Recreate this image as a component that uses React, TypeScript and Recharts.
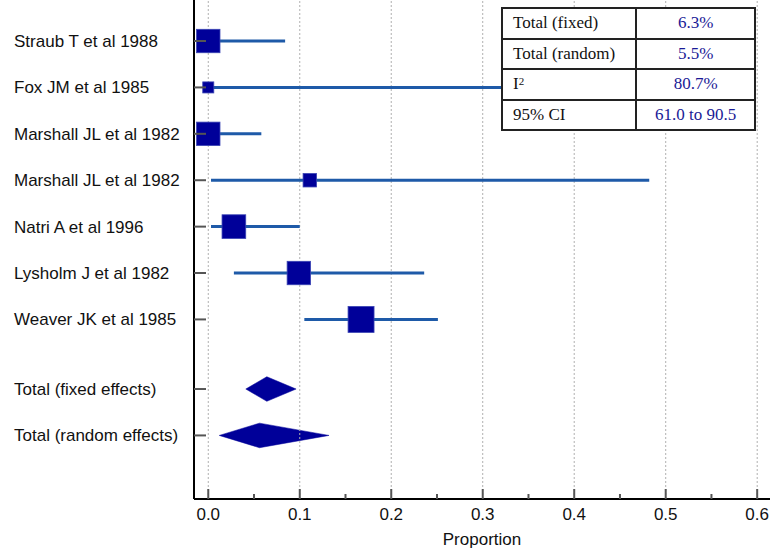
import React from 'react';
import { ScatterChart, Scatter, XAxis, YAxis, ErrorBar, ReferenceLine, ReferenceArea } from 'recharts';

// ---- data ----
const studyNames = [
  'Straub T et al 1988',
  'Fox JM et al 1985',
  'Marshall JL et al 1982',
  'Marshall JL et al 1982',
  'Natri A et al 1996',
  'Lysholm J et al 1982',
  'Weaver JK et al 1985',
];
const studyRows = [0, 1, 2, 3, 4, 5, 6];
const studyProportion = [0.0, 0.0, 0.0, 0.111, 0.028, 0.099, 0.167];
const studyLower = [0.0, 0.0, 0.0, 0.003, 0.003, 0.028, 0.105];
const studyUpper = [0.084, 0.52, 0.058, 0.482, 0.1, 0.236, 0.251];
const studyWeight = [17.5, 3.9, 17.5, 5.8, 17.9, 17.5, 21.5];

const totalNames = ['Total (fixed effects)', 'Total (random effects)'];
const totalRows = [7.5, 8.5];
const totalProportion = [0.064, 0.056];
const totalLower = [0.041, 0.012];
const totalUpper = [0.096, 0.132];

const xTicks = [0, 0.05, 0.1, 0.15, 0.2, 0.25, 0.3, 0.35, 0.4, 0.45, 0.5, 0.55, 0.6];
const gridValues = [0, 0.1, 0.2, 0.3, 0.4, 0.5, 0.6];
const majorTickLabels = ['0.0', '0.1', '0.2', '0.3', '0.4', '0.5', '0.6'];

const tableLabels = ['Total (fixed)', 'Total (random)', 'I', '95% CI'];
const tableLabelSup = ['', '', '2', ''];
const tableValues = ['6.3%', '5.5%', '80.7%', '61.0 to 90.5'];

// ---- derived ----
const studyData = studyNames.map((name, i) => ({
  name,
  row: studyRows[i],
  p: studyProportion[i],
  w: studyWeight[i],
  err: [studyProportion[i] - studyLower[i], studyUpper[i] - studyProportion[i]],
}));

const rowLabels: Record<string, string> = {};
studyRows.forEach((r, i) => (rowLabels[String(r)] = studyNames[i]));
totalRows.forEach((r, i) => (rowLabels[String(r)] = totalNames[i]));

const SANS = '"Liberation Sans", Arial, Helvetica, sans-serif';
const SERIF = '"Liberation Serif", "Times New Roman", Times, serif';
const NAVY = '#000099';

const SquareShape = (props: any) => {
  const { cx, cy, payload } = props;
  const s = 5.6 * Math.sqrt(payload.w);
  return (
    <rect x={cx - s / 2} y={cy - s / 2} width={s} height={s} fill={NAVY} stroke="#3a44b4" strokeWidth={0.8} />
  );
};

const makeDiamond = (p: number, lo: number, hi: number) => (props: any) => {
  const { x, y, width, height } = props;
  const px = x + (width * (p - lo)) / (hi - lo);
  const cy = y + height / 2;
  return (
    <polygon
      points={`${x},${cy} ${px},${y} ${x + width},${cy} ${px},${y + height}`}
      fill={NAVY}
      stroke={NAVY}
      strokeWidth={0.5}
    />
  );
};

const YTick = (props: any) => {
  const { x, y, payload } = props;
  const label = rowLabels[String(payload.value)];
  return (
    <g>
      <line x1={x} x2={x + 12} y1={y} y2={y} stroke="#555" strokeWidth={2} />
      <text x={14} y={y} dy={6} textAnchor="start" fontFamily={SANS} fontSize={17} fill="#111">
        {label}
      </text>
    </g>
  );
};

const XTick = (props: any) => {
  const { x, y, payload } = props;
  const idx = gridValues.findIndex((g) => Math.abs(g - payload.value) < 1e-9);
  const major = idx >= 0;
  return (
    <g>
      <line x1={x} x2={x} y1={y} y2={y - (major ? 10 : 5)} stroke="#555" strokeWidth={2} />
      {major && (
        <text x={x} y={y + 21} textAnchor="middle" fontFamily={SANS} fontSize={17} fill="#111">
          {majorTickLabels[idx]}
        </text>
      )}
    </g>
  );
};

export default function App() {
  return (
    <div style={{ position: 'absolute', left: 0, top: 0, width: 770, height: 548, background: '#fff' }}>
      <ScatterChart width={770} height={548} margin={{ top: 0, right: 0, bottom: 0, left: 0 }}>
        <XAxis
          type="number"
          dataKey="p"
          domain={[-0.0156, 0.614]}
          allowDataOverflow
          ticks={xTicks}
          interval={0}
          tickSize={0}
          tickMargin={0}
          tick={<XTick />}
          height={49}
          axisLine={{ stroke: '#000', strokeWidth: 2 }}
          tickLine={false}
          label={{ value: 'Proportion', position: 'insideBottom', offset: 3, fontFamily: SANS, fontSize: 17, fill: '#111' }}
        />
        <YAxis
          type="number"
          dataKey="row"
          domain={[-0.884, 9.87]}
          allowDataOverflow
          reversed
          ticks={[...studyRows, ...totalRows]}
          interval={0}
          tickSize={0}
          tickMargin={0}
          tick={<YTick />}
          width={194}
          axisLine={{ stroke: '#000', strokeWidth: 2 }}
          tickLine={false}
        />
        {gridValues.map((g) => (
          <ReferenceLine key={g} x={g} stroke="#b0b0b0" strokeDasharray="2 2" strokeWidth={1} />
        ))}
        <Scatter data={studyData} shape={SquareShape} isAnimationActive={false}>
          <ErrorBar dataKey="err" direction="x" width={0} stroke="#1e5aa8" strokeWidth={3} isAnimationActive={false} />
        </Scatter>
        {totalNames.map((n, i) => (
          <ReferenceArea
            key={n}
            x1={totalLower[i]}
            x2={totalUpper[i]}
            y1={totalRows[i] - 0.265}
            y2={totalRows[i] + 0.265}
            shape={makeDiamond(totalProportion[i], totalLower[i], totalUpper[i])}
          />
        ))}
      </ScatterChart>
      <table
        style={{
          position: 'absolute',
          left: 501,
          top: 7,
          width: 255,
          borderCollapse: 'collapse',
          background: '#fff',
          fontFamily: SERIF,
          fontSize: 17,
          border: '2px solid #222',
        }}
      >
        <tbody>
          {tableLabels.map((l, i) => (
            <tr key={i} style={{ height: 30.5 }}>
              <td style={{ border: '2px solid #222', width: 129, padding: '0 0 0 10px', color: '#111', lineHeight: '26px' }}>
                {l}
                {tableLabelSup[i] && <sup style={{ fontSize: 11, verticalAlign: 'top', lineHeight: '20px' }}>{tableLabelSup[i]}</sup>}
              </td>
              <td style={{ border: '2px solid #222', width: 125, padding: 0, textAlign: 'center', color: '#1a1a96', lineHeight: '26px' }}>
                {tableValues[i]}
              </td>
            </tr>
          ))}
        </tbody>
      </table>
    </div>
  );
}
